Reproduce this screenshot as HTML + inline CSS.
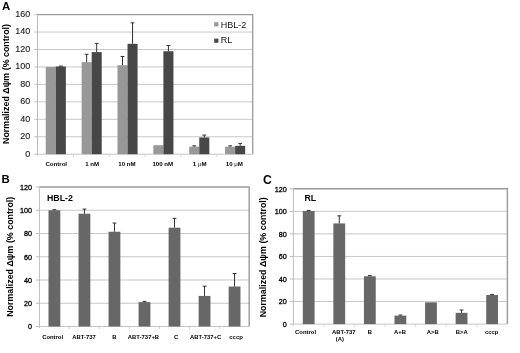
<!DOCTYPE html>
<html><head><meta charset="utf-8"><style>
html,body{margin:0;padding:0;background:#fff;}
svg{display:block;font-family:"Liberation Sans", sans-serif;filter:grayscale(1);}
</style></head><body>
<svg width="520" height="353" viewBox="0 0 520 353">
<rect width="520" height="353" fill="#fff"/>
<line x1="37.50" y1="136.75" x2="252.70" y2="136.75" stroke="#c8c8c8" stroke-width="1"/>
<line x1="37.50" y1="119.30" x2="252.70" y2="119.30" stroke="#c8c8c8" stroke-width="1"/>
<line x1="37.50" y1="101.85" x2="252.70" y2="101.85" stroke="#c8c8c8" stroke-width="1"/>
<line x1="37.50" y1="84.40" x2="252.70" y2="84.40" stroke="#c8c8c8" stroke-width="1"/>
<line x1="37.50" y1="66.95" x2="252.70" y2="66.95" stroke="#c8c8c8" stroke-width="1"/>
<line x1="37.50" y1="49.50" x2="252.70" y2="49.50" stroke="#c8c8c8" stroke-width="1"/>
<line x1="37.50" y1="32.05" x2="252.70" y2="32.05" stroke="#c8c8c8" stroke-width="1"/>
<line x1="34.50" y1="154.20" x2="37.50" y2="154.20" stroke="#bcbcbc" stroke-width="1"/>
<line x1="34.50" y1="136.75" x2="37.50" y2="136.75" stroke="#bcbcbc" stroke-width="1"/>
<line x1="34.50" y1="119.30" x2="37.50" y2="119.30" stroke="#bcbcbc" stroke-width="1"/>
<line x1="34.50" y1="101.85" x2="37.50" y2="101.85" stroke="#bcbcbc" stroke-width="1"/>
<line x1="34.50" y1="84.40" x2="37.50" y2="84.40" stroke="#bcbcbc" stroke-width="1"/>
<line x1="34.50" y1="66.95" x2="37.50" y2="66.95" stroke="#bcbcbc" stroke-width="1"/>
<line x1="34.50" y1="49.50" x2="37.50" y2="49.50" stroke="#bcbcbc" stroke-width="1"/>
<line x1="34.50" y1="32.05" x2="37.50" y2="32.05" stroke="#bcbcbc" stroke-width="1"/>
<line x1="34.50" y1="14.60" x2="37.50" y2="14.60" stroke="#bcbcbc" stroke-width="1"/>
<line x1="37.50" y1="14.60" x2="253.20" y2="14.60" stroke="#9a9a9a" stroke-width="1.3"/>
<line x1="252.70" y1="14.60" x2="252.70" y2="154.20" stroke="#9a9a9a" stroke-width="1.3"/>
<line x1="37.50" y1="14.60" x2="37.50" y2="155.70" stroke="#bcbcbc" stroke-width="1"/>
<line x1="37.50" y1="154.20" x2="252.70" y2="154.20" stroke="#c6c6c6" stroke-width="1"/>
<line x1="73.37" y1="154.20" x2="73.37" y2="156.70" stroke="#d0d0d0" stroke-width="1"/>
<line x1="109.23" y1="154.20" x2="109.23" y2="156.70" stroke="#d0d0d0" stroke-width="1"/>
<line x1="145.10" y1="154.20" x2="145.10" y2="156.70" stroke="#d0d0d0" stroke-width="1"/>
<line x1="180.97" y1="154.20" x2="180.97" y2="156.70" stroke="#d0d0d0" stroke-width="1"/>
<line x1="216.83" y1="154.20" x2="216.83" y2="156.70" stroke="#d0d0d0" stroke-width="1"/>
<rect x="45.75" y="66.95" width="10.05" height="87.25" fill="#989898"/>
<rect x="55.80" y="66.51" width="10.05" height="87.69" fill="#474747"/>
<line x1="60.82" y1="66.51" x2="60.82" y2="66.08" stroke="#303030" stroke-width="1"/>
<line x1="58.92" y1="66.08" x2="62.72" y2="66.08" stroke="#303030" stroke-width="1"/>
<text x="56.23" y="166.10" font-size="6.1" font-weight="bold" text-anchor="middle" fill="#000" >Control</text>
<rect x="81.62" y="62.15" width="10.05" height="92.05" fill="#989898"/>
<rect x="91.67" y="52.12" width="10.05" height="102.08" fill="#474747"/>
<line x1="86.64" y1="62.15" x2="86.64" y2="54.30" stroke="#303030" stroke-width="1"/>
<line x1="84.74" y1="54.30" x2="88.54" y2="54.30" stroke="#303030" stroke-width="1"/>
<line x1="96.69" y1="52.12" x2="96.69" y2="43.39" stroke="#303030" stroke-width="1"/>
<line x1="94.79" y1="43.39" x2="98.59" y2="43.39" stroke="#303030" stroke-width="1"/>
<text x="92.10" y="166.10" font-size="6.1" font-weight="bold" text-anchor="middle" fill="#000" >1 nM</text>
<rect x="117.48" y="65.20" width="10.05" height="88.99" fill="#989898"/>
<rect x="127.53" y="43.83" width="10.05" height="110.37" fill="#474747"/>
<line x1="122.51" y1="65.20" x2="122.51" y2="56.48" stroke="#303030" stroke-width="1"/>
<line x1="120.61" y1="56.48" x2="124.41" y2="56.48" stroke="#303030" stroke-width="1"/>
<line x1="132.56" y1="43.83" x2="132.56" y2="22.89" stroke="#303030" stroke-width="1"/>
<line x1="130.66" y1="22.89" x2="134.46" y2="22.89" stroke="#303030" stroke-width="1"/>
<text x="126.97" y="166.10" font-size="6.1" font-weight="bold" text-anchor="middle" fill="#000" >10 nM</text>
<rect x="153.35" y="145.21" width="10.05" height="8.99" fill="#989898"/>
<rect x="163.40" y="51.24" width="10.05" height="102.95" fill="#474747"/>
<line x1="168.43" y1="51.24" x2="168.43" y2="45.57" stroke="#303030" stroke-width="1"/>
<line x1="166.53" y1="45.57" x2="170.33" y2="45.57" stroke="#303030" stroke-width="1"/>
<text x="162.83" y="166.10" font-size="6.1" font-weight="bold" text-anchor="middle" fill="#000" >100 nM</text>
<rect x="189.22" y="146.70" width="10.05" height="7.50" fill="#989898"/>
<rect x="199.27" y="137.45" width="10.05" height="16.75" fill="#474747"/>
<line x1="194.24" y1="146.70" x2="194.24" y2="145.82" stroke="#303030" stroke-width="1"/>
<line x1="192.34" y1="145.82" x2="196.14" y2="145.82" stroke="#303030" stroke-width="1"/>
<line x1="204.29" y1="137.45" x2="204.29" y2="135.09" stroke="#303030" stroke-width="1"/>
<line x1="202.39" y1="135.09" x2="206.19" y2="135.09" stroke="#303030" stroke-width="1"/>
<text x="199.70" y="166.10" font-size="6.1" font-weight="bold" text-anchor="middle" fill="#000" >1 <tspan font-weight="normal">&#956;</tspan>M</text>
<rect x="225.08" y="146.70" width="10.05" height="7.50" fill="#989898"/>
<rect x="235.13" y="145.82" width="10.05" height="8.38" fill="#474747"/>
<line x1="230.11" y1="146.70" x2="230.11" y2="145.82" stroke="#303030" stroke-width="1"/>
<line x1="228.21" y1="145.82" x2="232.01" y2="145.82" stroke="#303030" stroke-width="1"/>
<line x1="240.16" y1="145.82" x2="240.16" y2="143.38" stroke="#303030" stroke-width="1"/>
<line x1="238.26" y1="143.38" x2="242.06" y2="143.38" stroke="#303030" stroke-width="1"/>
<text x="234.37" y="166.10" font-size="6.1" font-weight="bold" text-anchor="middle" fill="#000" >10 <tspan font-weight="normal">&#956;</tspan>M</text>
<text x="30.20" y="156.50" font-size="9.0" font-weight="normal" text-anchor="end" fill="#1a1a1a" stroke="#1a1a1a" stroke-width="0.12">0</text>
<text x="30.20" y="139.05" font-size="9.0" font-weight="normal" text-anchor="end" fill="#1a1a1a" stroke="#1a1a1a" stroke-width="0.12">20</text>
<text x="30.20" y="121.60" font-size="9.0" font-weight="normal" text-anchor="end" fill="#1a1a1a" stroke="#1a1a1a" stroke-width="0.12">40</text>
<text x="30.20" y="104.15" font-size="9.0" font-weight="normal" text-anchor="end" fill="#1a1a1a" stroke="#1a1a1a" stroke-width="0.12">60</text>
<text x="30.20" y="86.70" font-size="9.0" font-weight="normal" text-anchor="end" fill="#1a1a1a" stroke="#1a1a1a" stroke-width="0.12">80</text>
<text x="30.20" y="69.25" font-size="9.0" font-weight="normal" text-anchor="end" fill="#1a1a1a" stroke="#1a1a1a" stroke-width="0.12">100</text>
<text x="30.20" y="51.80" font-size="9.0" font-weight="normal" text-anchor="end" fill="#1a1a1a" stroke="#1a1a1a" stroke-width="0.12">120</text>
<text x="30.20" y="34.35" font-size="9.0" font-weight="normal" text-anchor="end" fill="#1a1a1a" stroke="#1a1a1a" stroke-width="0.12">140</text>
<text x="30.20" y="16.90" font-size="9.0" font-weight="normal" text-anchor="end" fill="#1a1a1a" stroke="#1a1a1a" stroke-width="0.12">160</text>
<text x="0.00" y="0.00" font-size="8.9" font-weight="bold" text-anchor="middle" fill="#000" transform="translate(9.0,84) rotate(-90)">Normalized &#916;&#968;m (% control)</text>
<rect x="214.20" y="22.20" width="4.20" height="4.20" fill="#989898"/>
<rect x="214.20" y="38.60" width="4.20" height="4.20" fill="#474747"/>
<text x="220.80" y="27.50" font-size="9.0" font-weight="normal" text-anchor="start" fill="#111" >HBL-2</text>
<text x="220.80" y="43.10" font-size="9.0" font-weight="normal" text-anchor="start" fill="#111" >RL</text>
<text x="2.00" y="10.30" font-size="11.4" font-weight="bold" text-anchor="start" fill="#000" >A</text>
<line x1="39.40" y1="303.25" x2="249.20" y2="303.25" stroke="#c8c8c8" stroke-width="1"/>
<line x1="39.40" y1="280.00" x2="249.20" y2="280.00" stroke="#c8c8c8" stroke-width="1"/>
<line x1="39.40" y1="256.75" x2="249.20" y2="256.75" stroke="#c8c8c8" stroke-width="1"/>
<line x1="39.40" y1="233.50" x2="249.20" y2="233.50" stroke="#c8c8c8" stroke-width="1"/>
<line x1="39.40" y1="210.25" x2="249.20" y2="210.25" stroke="#c8c8c8" stroke-width="1"/>
<line x1="35.90" y1="326.50" x2="39.40" y2="326.50" stroke="#bcbcbc" stroke-width="1"/>
<line x1="35.90" y1="303.25" x2="39.40" y2="303.25" stroke="#bcbcbc" stroke-width="1"/>
<line x1="35.90" y1="280.00" x2="39.40" y2="280.00" stroke="#bcbcbc" stroke-width="1"/>
<line x1="35.90" y1="256.75" x2="39.40" y2="256.75" stroke="#bcbcbc" stroke-width="1"/>
<line x1="35.90" y1="233.50" x2="39.40" y2="233.50" stroke="#bcbcbc" stroke-width="1"/>
<line x1="35.90" y1="210.25" x2="39.40" y2="210.25" stroke="#bcbcbc" stroke-width="1"/>
<line x1="35.90" y1="187.00" x2="39.40" y2="187.00" stroke="#bcbcbc" stroke-width="1"/>
<line x1="39.40" y1="187.00" x2="249.80" y2="187.00" stroke="#9a9a9a" stroke-width="1.4"/>
<line x1="249.20" y1="187.00" x2="249.20" y2="326.50" stroke="#9a9a9a" stroke-width="1.4"/>
<line x1="39.40" y1="187.00" x2="39.40" y2="328.00" stroke="#bcbcbc" stroke-width="1"/>
<line x1="39.40" y1="326.50" x2="249.20" y2="326.50" stroke="#c6c6c6" stroke-width="1"/>
<line x1="69.43" y1="326.50" x2="69.43" y2="329.00" stroke="#d0d0d0" stroke-width="1"/>
<line x1="99.45" y1="326.50" x2="99.45" y2="329.00" stroke="#d0d0d0" stroke-width="1"/>
<line x1="129.48" y1="326.50" x2="129.48" y2="329.00" stroke="#d0d0d0" stroke-width="1"/>
<line x1="159.50" y1="326.50" x2="159.50" y2="329.00" stroke="#d0d0d0" stroke-width="1"/>
<line x1="189.53" y1="326.50" x2="189.53" y2="329.00" stroke="#d0d0d0" stroke-width="1"/>
<line x1="219.55" y1="326.50" x2="219.55" y2="329.00" stroke="#d0d0d0" stroke-width="1"/>
<rect x="48.51" y="210.25" width="11.80" height="116.25" fill="#676767"/>
<line x1="54.41" y1="210.25" x2="54.41" y2="209.67" stroke="#303030" stroke-width="1"/>
<line x1="52.51" y1="209.67" x2="56.31" y2="209.67" stroke="#303030" stroke-width="1"/>
<text x="52.61" y="338.60" font-size="5.9" font-weight="bold" text-anchor="middle" fill="#000" >Control</text>
<rect x="78.54" y="213.74" width="11.80" height="112.76" fill="#676767"/>
<line x1="84.44" y1="213.74" x2="84.44" y2="209.09" stroke="#303030" stroke-width="1"/>
<line x1="82.54" y1="209.09" x2="86.34" y2="209.09" stroke="#303030" stroke-width="1"/>
<text x="83.94" y="338.60" font-size="5.9" font-weight="bold" text-anchor="middle" fill="#000" >ABT-737</text>
<rect x="108.56" y="231.76" width="11.80" height="94.74" fill="#676767"/>
<line x1="114.46" y1="231.76" x2="114.46" y2="223.04" stroke="#303030" stroke-width="1"/>
<line x1="112.56" y1="223.04" x2="116.36" y2="223.04" stroke="#303030" stroke-width="1"/>
<text x="114.46" y="338.60" font-size="5.9" font-weight="bold" text-anchor="middle" fill="#000" >B</text>
<rect x="138.59" y="302.09" width="11.80" height="24.41" fill="#676767"/>
<line x1="144.49" y1="302.09" x2="144.49" y2="301.39" stroke="#303030" stroke-width="1"/>
<line x1="142.59" y1="301.39" x2="146.39" y2="301.39" stroke="#303030" stroke-width="1"/>
<text x="143.49" y="338.60" font-size="5.9" font-weight="bold" text-anchor="middle" fill="#000" >ABT-737+B</text>
<rect x="168.61" y="227.69" width="11.80" height="98.81" fill="#676767"/>
<line x1="174.51" y1="227.69" x2="174.51" y2="218.39" stroke="#303030" stroke-width="1"/>
<line x1="172.61" y1="218.39" x2="176.41" y2="218.39" stroke="#303030" stroke-width="1"/>
<text x="176.01" y="338.60" font-size="5.9" font-weight="bold" text-anchor="middle" fill="#000" >C</text>
<rect x="198.64" y="295.93" width="11.80" height="30.57" fill="#676767"/>
<line x1="204.54" y1="295.93" x2="204.54" y2="286.16" stroke="#303030" stroke-width="1"/>
<line x1="202.64" y1="286.16" x2="206.44" y2="286.16" stroke="#303030" stroke-width="1"/>
<text x="205.54" y="338.60" font-size="5.9" font-weight="bold" text-anchor="middle" fill="#000" >ABT-737+C</text>
<rect x="228.66" y="286.51" width="11.80" height="39.99" fill="#676767"/>
<line x1="234.56" y1="286.51" x2="234.56" y2="273.49" stroke="#303030" stroke-width="1"/>
<line x1="232.66" y1="273.49" x2="236.46" y2="273.49" stroke="#303030" stroke-width="1"/>
<text x="236.06" y="338.60" font-size="5.9" font-weight="bold" text-anchor="middle" fill="#000" >cccp</text>
<text x="32.10" y="329.40" font-size="7.2" font-weight="normal" text-anchor="end" fill="#000" stroke="#000" stroke-width="0.3">0</text>
<text x="32.10" y="306.15" font-size="7.2" font-weight="normal" text-anchor="end" fill="#000" stroke="#000" stroke-width="0.3">20</text>
<text x="32.10" y="282.90" font-size="7.2" font-weight="normal" text-anchor="end" fill="#000" stroke="#000" stroke-width="0.3">40</text>
<text x="32.10" y="259.65" font-size="7.2" font-weight="normal" text-anchor="end" fill="#000" stroke="#000" stroke-width="0.3">60</text>
<text x="32.10" y="236.40" font-size="7.2" font-weight="normal" text-anchor="end" fill="#000" stroke="#000" stroke-width="0.3">80</text>
<text x="32.10" y="213.15" font-size="7.2" font-weight="normal" text-anchor="end" fill="#000" stroke="#000" stroke-width="0.3">100</text>
<text x="32.10" y="189.90" font-size="7.2" font-weight="normal" text-anchor="end" fill="#000" stroke="#000" stroke-width="0.3">120</text>
<text x="47.00" y="201.40" font-size="8.8" font-weight="bold" text-anchor="start" fill="#000" >HBL-2</text>
<text x="0.00" y="0.00" font-size="8.9" font-weight="bold" text-anchor="middle" fill="#000" transform="translate(12.7,256.8) rotate(-90)">Normalized &#916;&#968;m (% control)</text>
<text x="1.60" y="183.00" font-size="11.4" font-weight="bold" text-anchor="start" fill="#000" >B</text>
<line x1="293.40" y1="301.55" x2="507.40" y2="301.55" stroke="#c8c8c8" stroke-width="1"/>
<line x1="293.40" y1="279.00" x2="507.40" y2="279.00" stroke="#c8c8c8" stroke-width="1"/>
<line x1="293.40" y1="256.45" x2="507.40" y2="256.45" stroke="#c8c8c8" stroke-width="1"/>
<line x1="293.40" y1="233.90" x2="507.40" y2="233.90" stroke="#c8c8c8" stroke-width="1"/>
<line x1="293.40" y1="211.35" x2="507.40" y2="211.35" stroke="#c8c8c8" stroke-width="1"/>
<line x1="289.90" y1="324.10" x2="293.40" y2="324.10" stroke="#bcbcbc" stroke-width="1"/>
<line x1="289.90" y1="301.55" x2="293.40" y2="301.55" stroke="#bcbcbc" stroke-width="1"/>
<line x1="289.90" y1="279.00" x2="293.40" y2="279.00" stroke="#bcbcbc" stroke-width="1"/>
<line x1="289.90" y1="256.45" x2="293.40" y2="256.45" stroke="#bcbcbc" stroke-width="1"/>
<line x1="289.90" y1="233.90" x2="293.40" y2="233.90" stroke="#bcbcbc" stroke-width="1"/>
<line x1="289.90" y1="211.35" x2="293.40" y2="211.35" stroke="#bcbcbc" stroke-width="1"/>
<line x1="289.90" y1="188.80" x2="293.40" y2="188.80" stroke="#bcbcbc" stroke-width="1"/>
<line x1="293.40" y1="188.80" x2="508.00" y2="188.80" stroke="#9a9a9a" stroke-width="1.4"/>
<line x1="507.40" y1="188.80" x2="507.40" y2="324.10" stroke="#9a9a9a" stroke-width="1.4"/>
<line x1="293.40" y1="188.80" x2="293.40" y2="325.60" stroke="#bcbcbc" stroke-width="1"/>
<line x1="293.40" y1="324.10" x2="507.40" y2="324.10" stroke="#c6c6c6" stroke-width="1"/>
<line x1="323.97" y1="324.10" x2="323.97" y2="326.60" stroke="#d0d0d0" stroke-width="1"/>
<line x1="354.54" y1="324.10" x2="354.54" y2="326.60" stroke="#d0d0d0" stroke-width="1"/>
<line x1="385.11" y1="324.10" x2="385.11" y2="326.60" stroke="#d0d0d0" stroke-width="1"/>
<line x1="415.69" y1="324.10" x2="415.69" y2="326.60" stroke="#d0d0d0" stroke-width="1"/>
<line x1="446.26" y1="324.10" x2="446.26" y2="326.60" stroke="#d0d0d0" stroke-width="1"/>
<line x1="476.83" y1="324.10" x2="476.83" y2="326.60" stroke="#d0d0d0" stroke-width="1"/>
<rect x="302.79" y="211.01" width="11.80" height="113.09" fill="#676767"/>
<line x1="308.69" y1="211.01" x2="308.69" y2="210.45" stroke="#303030" stroke-width="1"/>
<line x1="306.79" y1="210.45" x2="310.59" y2="210.45" stroke="#303030" stroke-width="1"/>
<text x="305.59" y="333.80" font-size="5.9" font-weight="bold" text-anchor="middle" fill="#000" >Control</text>
<rect x="333.36" y="223.41" width="11.80" height="100.69" fill="#676767"/>
<line x1="339.26" y1="223.41" x2="339.26" y2="215.86" stroke="#303030" stroke-width="1"/>
<line x1="337.36" y1="215.86" x2="341.16" y2="215.86" stroke="#303030" stroke-width="1"/>
<text x="343.76" y="333.80" font-size="5.9" font-weight="bold" text-anchor="middle" fill="#000" >ABT-737</text>
<rect x="363.93" y="276.29" width="11.80" height="47.81" fill="#676767"/>
<line x1="369.83" y1="276.29" x2="369.83" y2="275.62" stroke="#303030" stroke-width="1"/>
<line x1="367.93" y1="275.62" x2="371.73" y2="275.62" stroke="#303030" stroke-width="1"/>
<text x="369.83" y="333.80" font-size="5.9" font-weight="bold" text-anchor="middle" fill="#000" >B</text>
<rect x="394.50" y="315.64" width="11.80" height="8.46" fill="#676767"/>
<line x1="400.40" y1="315.64" x2="400.40" y2="315.08" stroke="#303030" stroke-width="1"/>
<line x1="398.50" y1="315.08" x2="402.30" y2="315.08" stroke="#303030" stroke-width="1"/>
<text x="400.00" y="333.80" font-size="5.9" font-weight="bold" text-anchor="middle" fill="#000" >A+B</text>
<rect x="425.07" y="302.34" width="11.80" height="21.76" fill="#676767"/>
<text x="432.67" y="333.80" font-size="5.9" font-weight="bold" text-anchor="middle" fill="#000" >A&gt;B</text>
<rect x="455.64" y="312.83" width="11.80" height="11.27" fill="#676767"/>
<line x1="461.54" y1="312.83" x2="461.54" y2="310.01" stroke="#303030" stroke-width="1"/>
<line x1="459.64" y1="310.01" x2="463.44" y2="310.01" stroke="#303030" stroke-width="1"/>
<text x="461.84" y="333.80" font-size="5.9" font-weight="bold" text-anchor="middle" fill="#000" >B&gt;A</text>
<rect x="486.21" y="295.01" width="11.80" height="29.09" fill="#676767"/>
<line x1="492.11" y1="295.01" x2="492.11" y2="294.45" stroke="#303030" stroke-width="1"/>
<line x1="490.21" y1="294.45" x2="494.01" y2="294.45" stroke="#303030" stroke-width="1"/>
<text x="491.61" y="333.80" font-size="5.9" font-weight="bold" text-anchor="middle" fill="#000" >cccp</text>
<text x="286.80" y="327.00" font-size="7.2" font-weight="normal" text-anchor="end" fill="#000" stroke="#000" stroke-width="0.3">0</text>
<text x="286.80" y="304.45" font-size="7.2" font-weight="normal" text-anchor="end" fill="#000" stroke="#000" stroke-width="0.3">20</text>
<text x="286.80" y="281.90" font-size="7.2" font-weight="normal" text-anchor="end" fill="#000" stroke="#000" stroke-width="0.3">40</text>
<text x="286.80" y="259.35" font-size="7.2" font-weight="normal" text-anchor="end" fill="#000" stroke="#000" stroke-width="0.3">60</text>
<text x="286.80" y="236.80" font-size="7.2" font-weight="normal" text-anchor="end" fill="#000" stroke="#000" stroke-width="0.3">80</text>
<text x="286.80" y="214.25" font-size="7.2" font-weight="normal" text-anchor="end" fill="#000" stroke="#000" stroke-width="0.3">100</text>
<text x="286.80" y="191.70" font-size="7.2" font-weight="normal" text-anchor="end" fill="#000" stroke="#000" stroke-width="0.3">120</text>
<text x="304.40" y="201.40" font-size="8.8" font-weight="bold" text-anchor="start" fill="#000" >RL</text>
<text x="0.00" y="0.00" font-size="8.9" font-weight="bold" text-anchor="middle" fill="#000" transform="translate(265.6,257.3) rotate(-90)">Normalized &#916;&#968;m (% control)</text>
<text x="263.00" y="183.70" font-size="12.2" font-weight="bold" text-anchor="start" fill="#000" >C</text>
<text x="339.96" y="340.80" font-size="5.9" font-weight="bold" text-anchor="middle" fill="#000" >(A)</text>
</svg>
</body></html>
